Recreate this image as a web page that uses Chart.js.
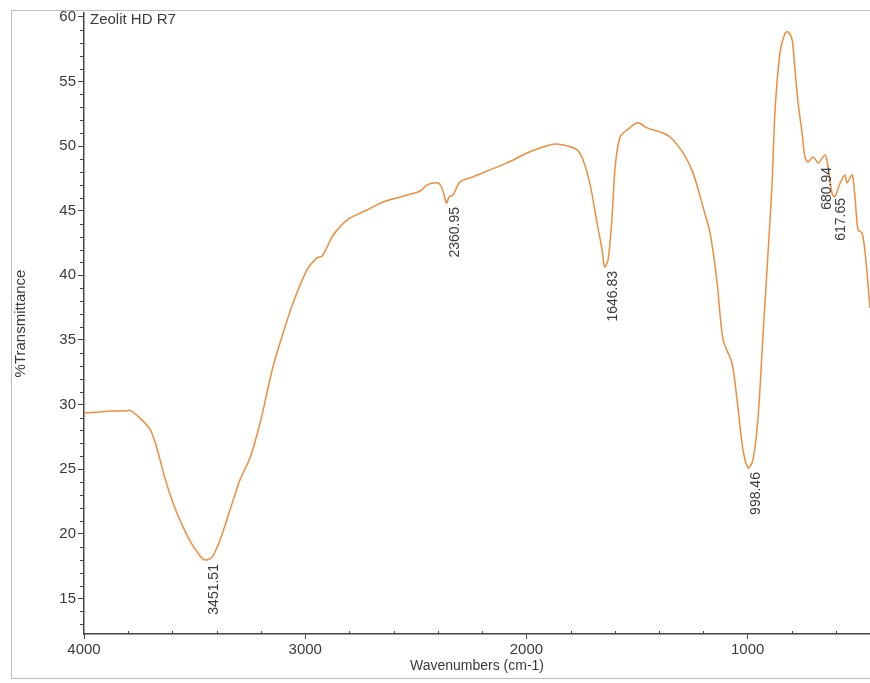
<!DOCTYPE html>
<html>
<head>
<meta charset="utf-8">
<title>Zeolit HD R7</title>
<script src="https://cdn.jsdelivr.net/npm/chart.js@4/dist/chart.umd.min.js"></script>
<style>
  body { margin: 0; background: #fff; }
  #wrap { width: 870px; height: 683px; }
</style>
</head>
<body>
<div id="wrap"><canvas id="ftir" width="870" height="683"></canvas></div>
<script>
/* ================= DATA ================= */

const wavenumbers = [
  4000, 3928, 3882, 3815, 3792, 3747, 3702, 3679, 3656, 3634, 3611, 3589, 3566, 3521, 3476, 3453,
  3421, 3385, 3340, 3295, 3250, 3204, 3146, 3100, 3055, 2992, 2947, 2924, 2901, 2879, 2843,
  2797, 2721, 2648, 2571, 2481, 2449, 2400, 2382, 2361, 2350, 2332, 2300, 2241, 2165, 2088,
  1997, 1939, 1871, 1816, 1771, 1744, 1712, 1681, 1658, 1647, 1631, 1613, 1599, 1577, 1545,
  1496, 1455, 1396, 1351, 1292, 1247, 1202, 1170, 1138, 1111, 1071, 1048, 1021, 998, 976,
  953, 930, 908, 890, 876, 854, 831, 817, 799, 786, 772, 754, 741, 727, 704,
  681, 650, 637, 618, 605, 582, 560, 551, 528, 515, 501, 483, 469, 447
];

const transmittance = [
  29.35, 29.43, 29.50, 29.50, 29.55, 28.95, 28.10, 27.10, 25.71, 24.30, 23.05, 22.00, 21.05, 19.45, 18.30, 17.97,
  18.20, 19.52, 21.84, 24.16, 25.87, 28.58, 32.91, 35.54, 37.86, 40.42, 41.35, 41.50, 42.20, 42.97, 43.75,
  44.44, 45.06, 45.68, 46.07, 46.53, 47.00, 47.15, 46.76, 45.60, 46.07, 46.22, 47.23, 47.62, 48.16, 48.70,
  49.47, 49.86, 50.17, 50.02, 49.71, 48.93, 47.00, 44.06, 41.97, 40.65, 41.19, 44.52, 48.39, 50.71, 51.25,
  51.80, 51.41, 51.10, 50.71, 49.47, 47.93, 45.29, 43.28, 39.41, 35.00, 33.22, 30.36, 26.49, 25.09, 25.71,
  29.04, 35.54, 41.73, 47.00, 52.80, 57.21, 58.76, 58.84, 58.22, 55.90, 53.34, 51.02, 49.16, 48.78, 49.16,
  48.70, 49.32, 48.39, 46.30, 46.10, 47.15, 47.77, 47.15, 47.77, 46.07, 43.51, 43.28, 41.73, 37.48
];

const peakWn = [3451.51, 2360.95, 1646.83, 998.46, 680.94, 617.65];
const peakT = [17.97, 45.60, 40.65, 25.09, 48.70, 46.30];
const peakLabels = ["3451.51", "2360.95", "1646.83", "998.46", "680.94", "617.65"];

const xTicks = [4000, 3000, 2000, 1000];
const yTicks = [15, 20, 25, 30, 35, 40, 45, 50, 55, 60];

const sampleName = "Zeolit HD R7";

/* ================= STYLE ================= */

const FONT = "Arial, 'Liberation Sans', sans-serif";
const LINE_COLOR = "#ef8d3d";
const AXIS_COLOR = "#444";
const TEXT_COLOR = "#3a3a3a";

/* ================= PLUGINS ================= */

// gray frame round the whole picture
const framePlugin = {
  id: "frame",
  beforeDraw(chart) {
    const ctx = chart.ctx;
    ctx.save();
    ctx.strokeStyle = "#bdbdbd";
    ctx.lineWidth = 1;
    ctx.strokeRect(11.5, 10.5, 880, 668);
    ctx.restore();
  }
};

// minor ticks, sample name and peak labels
const annotatePlugin = {
  id: "annotate",
  afterDraw(chart) {
    const ctx = chart.ctx;
    const xs = chart.scales.x;
    const ys = chart.scales.y;
    const area = chart.chartArea;

    ctx.save();
    ctx.strokeStyle = AXIS_COLOR;
    ctx.lineWidth = 1;
    ctx.beginPath();
    for (let v = 13; v <= 60; v++) {
      if (v % 5 === 0) continue;
      const y = Math.round(ys.getPixelForValue(v)) + 0.5;
      ctx.moveTo(area.left - 4, y);
      ctx.lineTo(area.left, y);
    }
    for (let v = 3800; v >= 500; v -= 200) {
      if (v % 1000 === 0) continue;
      const x = Math.round(xs.getPixelForValue(v)) + 0.5;
      ctx.moveTo(x, area.bottom);
      ctx.lineTo(x, area.bottom - 3);
    }
    ctx.stroke();

    ctx.fillStyle = TEXT_COLOR;
    ctx.font = "15px " + FONT;
    ctx.textAlign = "left";
    ctx.textBaseline = "middle";
    ctx.fillText(sampleName, area.left + 6, area.top + 7);

    ctx.font = "14px " + FONT;
    peakWn.forEach((wn, i) => {
      const x = xs.getPixelForValue(wn) + 8.5;
      const y = ys.getPixelForValue(peakT[i]) + 4;
      ctx.save();
      ctx.translate(x, y);
      ctx.rotate(-Math.PI / 2);
      ctx.textAlign = "right";
      ctx.textBaseline = "middle";
      ctx.fillText(peakLabels[i], 0, 0);
      ctx.restore();
    });
    ctx.restore();
  }
};

/* ================= CHART ================= */

const ctx = document.getElementById("ftir").getContext("2d");

new Chart(ctx, {
  type: "line",
  data: {
    datasets: [{
      data: wavenumbers.map((w, i) => ({ x: w, y: transmittance[i] })),
      borderColor: LINE_COLOR,
      borderWidth: 1.5,
      pointRadius: 0,
      tension: 0.3,
      fill: false
    }]
  },
  options: {
    responsive: false,
    animation: false,
    layout: { padding: { top: 13, right: 0, left: 0, bottom: 0 } },
    plugins: {
      legend: { display: false },
      tooltip: { enabled: false }
    },
    scales: {
      x: {
        type: "linear",
        reverse: true,
        min: 447,
        max: 4000,
        afterBuildTicks: s => { s.ticks = xTicks.map(v => ({ value: v })); },
        afterFit: s => { s.height = 49; },
        grid: { drawOnChartArea: false, tickLength: 5, tickColor: AXIS_COLOR },
        border: { color: AXIS_COLOR, width: 1.5 },
        ticks: {
          color: TEXT_COLOR,
          font: { family: FONT, size: 15 },
          padding: 2,
          maxRotation: 0,
          callback: v => String(v)
        },
        title: {
          display: true,
          text: "Wavenumbers (cm-1)",
          color: TEXT_COLOR,
          font: { family: FONT, size: 14 },
          padding: { top: 0, bottom: 8 }
        }
      },
      y: {
        type: "linear",
        min: 12.25,
        max: 60.3,
        afterBuildTicks: s => { s.ticks = yTicks.map(v => ({ value: v })); },
        afterFit: s => { s.width = 84; },
        grid: { drawOnChartArea: false, tickLength: 6, tickColor: AXIS_COLOR },
        border: { color: AXIS_COLOR, width: 1.5 },
        ticks: { color: TEXT_COLOR, font: { family: FONT, size: 15 }, padding: 2 },
        title: {
          display: true,
          text: "%Transmittance",
          color: TEXT_COLOR,
          font: { family: FONT, size: 15 },
          padding: { top: 12, bottom: 0 }
        }
      }
    }
  },
  plugins: [framePlugin, annotatePlugin]
});
</script>
</body>
</html>
